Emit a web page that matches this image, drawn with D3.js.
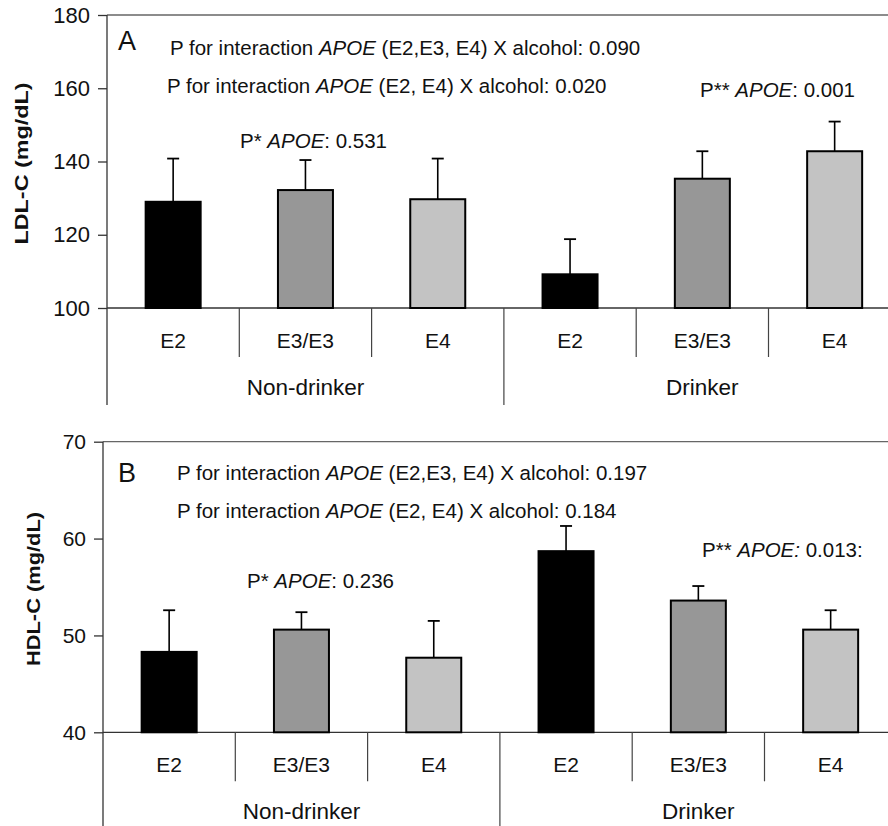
<!DOCTYPE html>
<html>
<head>
<meta charset="utf-8">
<script src="https://cdn.jsdelivr.net/npm/d3@7"></script>
<style>
  body { margin: 0; background: #fff; }
  svg text { font-family: "Liberation Sans", Arial, sans-serif; fill: #111; }
</style>
</head>
<body>
<div id="chart"></div>
<script>
// categories
const genotypes = ["E2", "E3/E3", "E4"];
const groups = ["Non-drinker", "Drinker"];
const barColors = ["#000000", "#979797", "#c3c3c3"];

// LDL-C (panel A): mean and top of error bar, non-drinkers then drinkers
const ldlMean = [129.0, 132.2, 129.7, 109.2, 135.3, 142.8];
const ldlUpper = [140.8, 140.4, 140.8, 118.8, 142.8, 150.9];
const ldlTicks = [100, 120, 140, 160, 180];

// HDL-C (panel B)
const hdlMean = [48.3, 50.6, 47.7, 58.7, 53.6, 50.6];
const hdlUpper = [52.6, 52.4, 51.5, 61.3, 55.1, 52.6];
const hdlTicks = [40, 50, 60, 70];

// annotation texts, parts flagged italic
const ldlNotes = [
    [["P for interaction ", false], ["APOE", true], [" (E2,E3, E4) X alcohol: 0.090", false]],
    [["P for interaction ", false], ["APOE", true], [" (E2, E4) X alcohol: 0.020", false]],
    [["P* ", false], ["APOE", true], [": 0.531", false]],
    [["P** ", false], ["APOE", true], [": 0.001", false]]
];
const hdlNotes = [
    [["P for interaction ", false], ["APOE", true], [" (E2,E3, E4) X alcohol: 0.197", false]],
    [["P for interaction ", false], ["APOE", true], [" (E2, E4) X alcohol: 0.184", false]],
    [["P* ", false], ["APOE", true], [": 0.236", false]],
    [["P** ", false], ["APOE:", true], [" 0.013:", false]]
];

const W = 888, H = 826;
const svg = d3.select("#chart").append("svg")
    .attr("width", W)
    .attr("height", H);

function drawPanel(p) {
    let g = svg.append("g");
    let n = genotypes.length * groups.length;
    let step = 132.3;

    let x = d3.scaleBand()
        .domain(d3.range(n))
        .range([p.left, p.left + n * step])
        .padding(0);
    let y = d3.scaleLinear()
        .domain([p.ticks[0], p.ticks[p.ticks.length - 1]])
        .range([p.bottom, p.top]);

    // top frame line and baseline
    g.append("line")
        .attr("x1", p.left).attr("x2", W)
        .attr("y1", y(p.ticks[p.ticks.length - 1])).attr("y2", y(p.ticks[p.ticks.length - 1]))
        .attr("stroke", "#666").attr("stroke-width", 1.3);
    g.append("line")
        .attr("x1", p.left).attr("x2", W)
        .attr("y1", y(p.ticks[0])).attr("y2", y(p.ticks[0]))
        .attr("stroke", "#333").attr("stroke-width", 1.3);

    // y axis
    let axis = g.append("g")
        .attr("transform", `translate(${p.left},0)`)
        .call(d3.axisLeft(y).tickValues(p.ticks).tickSize(9).tickPadding(8).tickSizeOuter(0));
    axis.select(".domain").remove();
    axis.selectAll("line").attr("stroke", "#333").attr("stroke-width", 1.3);
    axis.selectAll("text")
        .attr("font-size", p.tickFont)
        .attr("fill", "#111")
        .attr("font-family", "Liberation Sans, Arial, sans-serif");
    g.append("line")
        .attr("x1", p.left).attr("x2", p.left)
        .attr("y1", y(p.ticks[p.ticks.length - 1])).attr("y2", p.axisEnd)
        .attr("stroke", "#333").attr("stroke-width", 1.3);

    // y label
    g.append("text")
        .attr("transform", `translate(${p.labelX},${(p.top + p.bottom) / 2 + 2}) rotate(-90)`)
        .attr("text-anchor", "middle")
        .attr("font-size", "19px")
        .attr("font-weight", "bold")
        .attr("textLength", p.labelLen)
        .attr("lengthAdjust", "spacingAndGlyphs")
        .text(p.label);

    // category dividers
    d3.range(1, n + 1).forEach(i => {
        let isGroup = i % genotypes.length == 0;
        g.append("line")
            .attr("x1", x(0) + i * step).attr("x2", x(0) + i * step)
            .attr("y1", p.bottom)
            .attr("y2", isGroup ? p.axisEnd : p.bottom + 49)
            .attr("stroke", "#444").attr("stroke-width", 1.2);
    });

    // category and group labels
    g.selectAll(".cat")
        .data(d3.range(n))
        .enter()
        .append("text")
        .attr("x", d => x(d) + x.bandwidth() / 2)
        .attr("y", p.bottom + 40)
        .attr("text-anchor", "middle")
        .attr("font-size", "21px")
        .text(d => genotypes[d % genotypes.length]);
    g.selectAll(".grp")
        .data(groups)
        .enter()
        .append("text")
        .attr("x", (d, i) => x(i * 3) + 1.5 * step)
        .attr("y", p.bottom + 87)
        .attr("text-anchor", "middle")
        .attr("font-size", "22.5px")
        .text(d => d);

    // error bars (upper only)
    let cap = 6;
    p.upper.forEach((u, i) => {
        let cx = x(i) + x.bandwidth() / 2;
        g.append("line")
            .attr("x1", cx).attr("x2", cx)
            .attr("y1", y(p.mean[i])).attr("y2", y(u))
            .attr("stroke", "#000").attr("stroke-width", 1.6);
        g.append("line")
            .attr("x1", cx - cap).attr("x2", cx + cap)
            .attr("y1", y(u)).attr("y2", y(u))
            .attr("stroke", "#000").attr("stroke-width", 1.8);
    });

    // bars
    let bw = 55;
    g.selectAll(".bar")
        .data(p.mean)
        .enter()
        .append("rect")
        .attr("x", (d, i) => x(i) + x.bandwidth() / 2 - bw / 2)
        .attr("y", d => y(d))
        .attr("width", bw)
        .attr("height", d => y(p.ticks[0]) - y(d))
        .attr("fill", (d, i) => barColors[i % 3])
        .attr("stroke", "#000")
        .attr("stroke-width", 2);

    // panel letter
    g.append("text")
        .attr("x", p.letterX).attr("y", p.letterY)
        .attr("font-size", "27px")
        .text(p.letter);

    // annotations
    p.notes.forEach((parts, k) => {
        let t = g.append("text")
            .attr("x", p.notePos[k][0])
            .attr("y", p.notePos[k][1])
            .attr("font-size", "20.5px");
        parts.forEach(([s, it]) => {
            t.append("tspan")
                .attr("font-style", it ? "italic" : "normal")
                .text(s);
        });
    });
}

drawPanel({
    letter: "A", letterX: 118, letterY: 50,
    label: "LDL-C (mg/dL)", labelX: 28, labelLen: 162,
    left: 107, top: 15, bottom: 308, axisEnd: 405, tickFont: "22px",
    ticks: ldlTicks, mean: ldlMean, upper: ldlUpper, notes: ldlNotes,
    notePos: [[170, 55], [167, 93], [240, 148], [700, 97]]
});

drawPanel({
    letter: "B", letterX: 118, letterY: 482,
    label: "HDL-C (mg/dL)", labelX: 40, labelLen: 154,
    left: 103, top: 441.7, bottom: 732.3, axisEnd: 826, tickFont: "21px",
    ticks: hdlTicks, mean: hdlMean, upper: hdlUpper, notes: hdlNotes,
    notePos: [[177, 480], [177, 518], [247, 588], [702, 557]]
});
</script>
</body>
</html>
